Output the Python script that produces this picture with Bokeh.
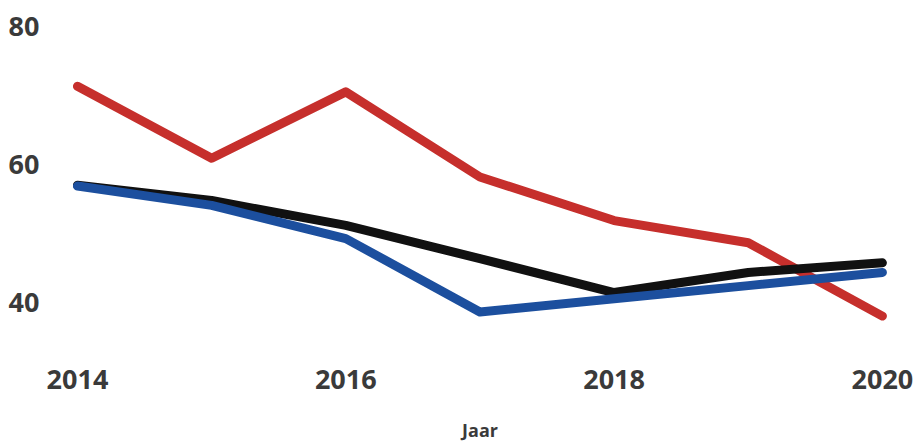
from bokeh.plotting import figure
from bokeh.embed import file_html
from bokeh.resources import INLINE
from bokeh.models import FixedTicker, Range1d

years = [2014, 2015, 2016, 2017, 2018, 2019, 2020]
red_values = [71.3, 60.9, 70.5, 58.2, 51.9, 48.7, 38.1]
black_values = [57.0, 54.8, 51.2, 46.4, 41.5, 44.4, 45.8]
blue_values = [56.9, 54.1, 49.3, 38.7, 40.6, 42.5, 44.4]
x_ticks = [2014, 2016, 2018, 2020]
y_ticks = [40, 60, 80]
x_label = "Jaar"

p = figure(width=919, height=444, output_backend="svg", toolbar_location=None,
           x_range=Range1d(2013.799, 2020.202), y_range=Range1d(36.45, 82.98),
           min_border_left=50, min_border_right=10, min_border_top=5, min_border_bottom=0)
p.outline_line_color = None
p.grid.grid_line_color = None
p.background_fill_color = "white"

lw = 9
p.line(years, red_values, line_color="#c62f2c", line_width=lw, line_cap="round", line_join="round")
p.line(years, black_values, line_color="#111111", line_width=lw, line_cap="round", line_join="round")
p.line(years, blue_values, line_color="#1c4f9e", line_width=lw, line_cap="round", line_join="round")

for ax in (p.xaxis, p.yaxis):
    ax.axis_line_color = None
    ax.major_tick_line_color = None
    ax.minor_tick_line_color = None
    ax.major_label_text_font = "Open Sans"
    ax.major_label_text_font_style = "bold"
    ax.major_label_text_font_size = "27px"
    ax.major_label_text_color = "#3a3a3a"

p.xaxis.ticker = FixedTicker(ticks=x_ticks)
p.yaxis.ticker = FixedTicker(ticks=y_ticks)
p.xaxis.major_label_standoff = 36
p.yaxis.major_label_standoff = 5
p.xaxis.axis_label = x_label
p.xaxis.axis_label_text_font = "Open Sans"
p.xaxis.axis_label_text_font_style = "bold"
p.xaxis.axis_label_text_font_size = "18px"
p.xaxis.axis_label_text_color = "#3a3a3a"
p.xaxis.axis_label_standoff = 26

open("out.html", "w").write(file_html(p, INLINE))
